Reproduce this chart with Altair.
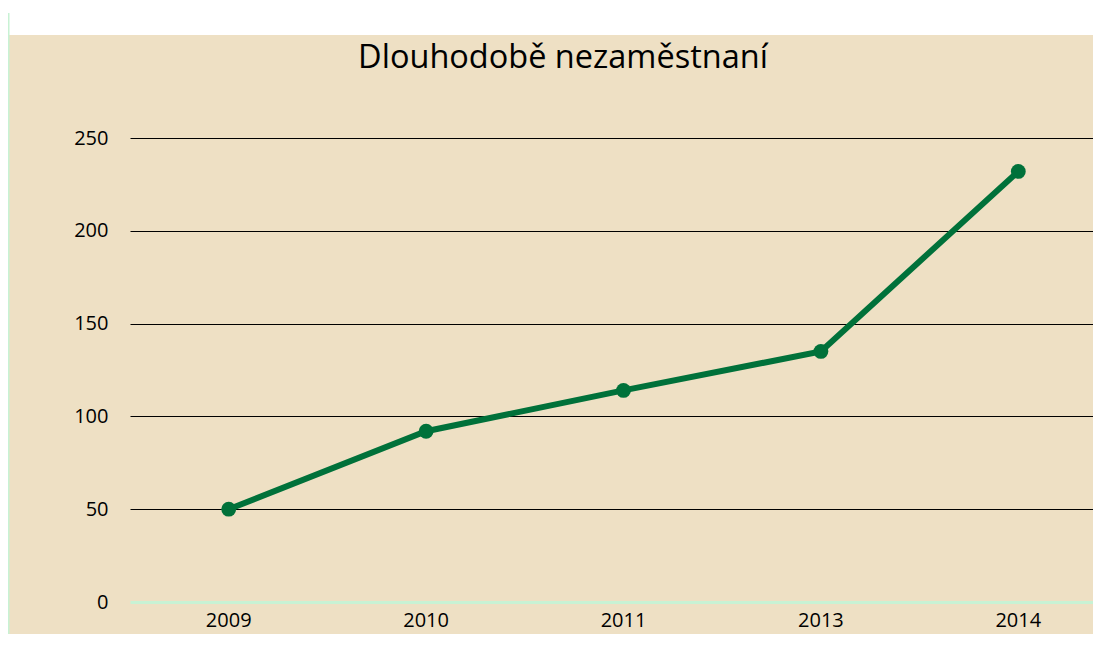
import altair as alt
import pandas as pd

years = ["2009", "2010", "2011", "2013", "2014"]
values = [50, 92, 114, 135, 232]
title_text = "Dlouhodobě nezaměstnaní"

df = pd.DataFrame({"rok": years, "hodnota": values})

W, H = 963, 464
PAD_L, PAD_T, PAD_R, PAD_B = 122, 130, 0, 32
BEIGE = "#EEE0C4"
MINT = "#C8F2D4"
GREEN = "#00713A"
FONT = "Open Sans"

x_scale = alt.Scale(type="band", range=[0, 987], paddingInner=0, paddingOuter=0)
x_axis = alt.Axis(title=None, labelAngle=0, domain=False, ticks=False,
                  grid=False, labelPadding=24, labelBaseline="alphabetic",
                  labelFontSize=20, labelFont=FONT, labelColor="#000000")
y_enc = alt.Y("hodnota:Q", scale=alt.Scale(domain=[0, 250]),
              axis=alt.Axis(title=None, values=[0, 50, 100, 150, 200, 250],
                            domain=False, ticks=False, labelPadding=22,
                            labelFontSize=20, labelFont=FONT, labelColor="#000000",
                            gridColor=alt.expr("datum.value == 0 ? '" + MINT + "' : '#000000'"),
                            gridWidth=alt.expr("datum.value == 0 ? 3 : 1.1")))
x_enc = alt.X("rok:N", sort=years, scale=x_scale, axis=x_axis, bandPosition=0.5)

one = pd.DataFrame({"a": [0]})
top_strip = alt.Chart(one).mark_rect(color="#FFFFFF", clip=False).encode(
    x=alt.value(-PAD_L - 5), x2=alt.value(W + 5), y=alt.value(-PAD_T - 5), y2=alt.value(-PAD_T + 27)
)
edge = alt.Chart(one).mark_rule(color=MINT, strokeWidth=1.5, clip=False).encode(
    x=alt.value(-PAD_L + 0.75), y=alt.value(-PAD_T + 5), y2=alt.value(H + PAD_B + 5)
)
title = alt.Chart(pd.DataFrame({"t": [title_text]})).mark_text(
    font=FONT, fontSize=32.5, color="#000000", align="center", baseline="alphabetic", clip=False
).encode(text="t:N", x=alt.value(433), y=alt.value(-70))

base = alt.Chart(df)
line = base.mark_line(color=GREEN, strokeWidth=6).encode(x=x_enc, y=y_enc)
pts = base.mark_circle(color=GREEN, size=220, opacity=1).encode(x=x_enc, y=y_enc)

chart = alt.layer(top_strip, edge, title, line, pts).properties(
    width=W, height=H,
    padding={"left": PAD_L, "top": PAD_T, "right": PAD_R, "bottom": PAD_B},
    autosize=alt.AutoSizeParams(type="none"),
    background=BEIGE,
).configure_view(stroke=None)

chart.save("out.html", embed_options={"renderer": "svg", "actions": False})
